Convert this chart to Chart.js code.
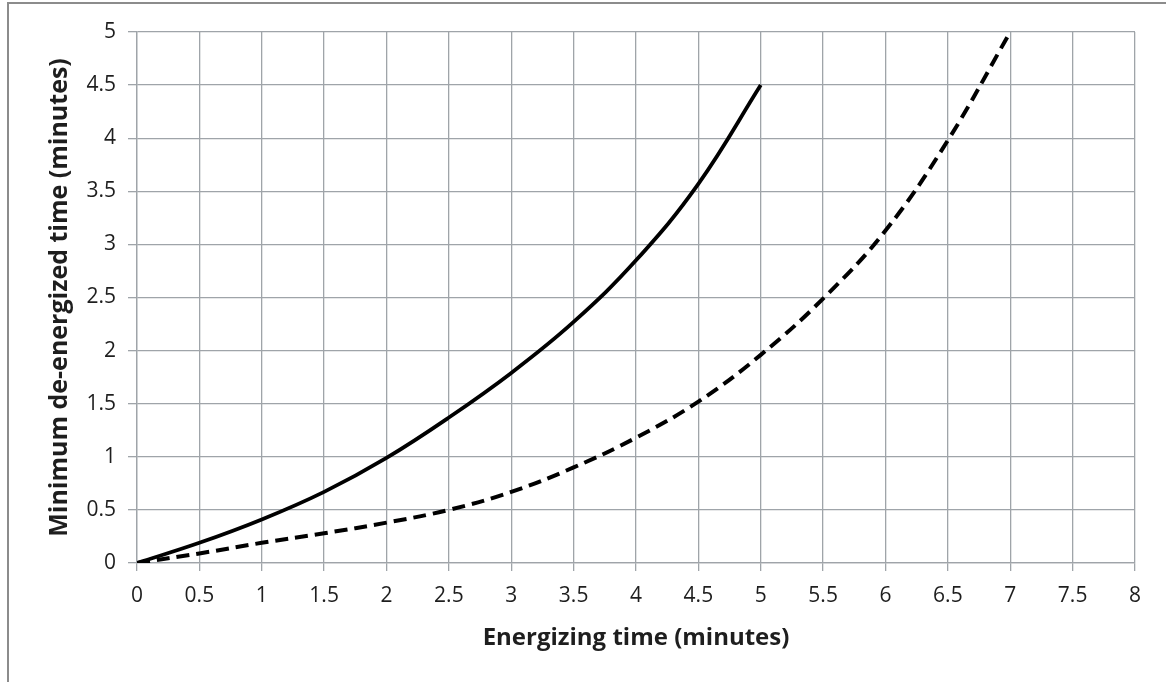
<!DOCTYPE html>
<html>
<head>
<meta charset="utf-8">
<title>Minimum de-energized time</title>
<script src="https://cdn.jsdelivr.net/npm/chart.js@4.4.1/dist/chart.umd.min.js"></script>
<style>
  html, body { margin: 0; padding: 0; background: #fff; }
  #wrap { position: relative; width: 1166px; height: 682px; overflow: hidden; }
  #frame {
    position: absolute; left: 7px; top: 2px; width: 1200px; height: 678px;
    border: 2px solid #8c8c8c; border-bottom: 1px solid #c8c8c8;
    pointer-events: none;
  }
  canvas { position: absolute; left: 0; top: 0; }
</style>
</head>
<body>
<div id="wrap">
  <canvas id="chart" width="1166" height="682"></canvas>
  <div id="frame"></div>
</div>
<script>
// Energizing time (minutes) vs minimum de-energized time (minutes)
const xTicks = [0, 0.5, 1, 1.5, 2, 2.5, 3, 3.5, 4, 4.5, 5, 5.5, 6, 6.5, 7, 7.5, 8];
const yTicks = [0, 0.5, 1, 1.5, 2, 2.5, 3, 3.5, 4, 4.5, 5];

const solidX = [0, 0.5, 1, 1.5, 2, 2.5, 3, 3.5, 4, 4.5, 5];
const solidY = [0, 0.19, 0.41, 0.67, 0.99, 1.37, 1.79, 2.27, 2.85, 3.57, 4.5];

const dashedX = [0, 0.5, 1, 1.5, 2, 2.5, 3, 3.5, 4, 4.5, 5, 5.5, 6, 6.5, 7];
const dashedY = [0, 0.09, 0.19, 0.28, 0.38, 0.5, 0.67, 0.9, 1.18, 1.52, 1.96, 2.49, 3.13, 3.98, 5.0];

const toPoints = (xs, ys) => xs.map((x, i) => ({ x: x, y: ys[i] }));

const gridColor = '#9fa4a9';
const textColor = '#1e1e1e';
const fontFamily = "'Open Sans', Lato, sans-serif";

new Chart(document.getElementById('chart'), {
  type: 'line',
  data: {
    datasets: [
      {
        data: toPoints(solidX, solidY),
        borderColor: '#000',
        borderWidth: 3.8,
        pointRadius: 0,
        tension: 0.4,
        fill: false
      },
      {
        data: toPoints(dashedX, dashedY),
        borderColor: '#000',
        borderWidth: 4,
        borderDash: [13, 7],
        pointRadius: 0,
        tension: 0.4,
        fill: false
      }
    ]
  },
  options: {
    responsive: false,
    animation: false,
    layout: { padding: { left: 45, top: 32, right: 31, bottom: 29 } },
    plugins: {
      legend: { display: false },
      tooltip: { enabled: false }
    },
    scales: {
      x: {
        type: 'linear',
        min: 0,
        max: 8,
        afterBuildTicks: (axis) => { axis.ticks = xTicks.map(v => ({ value: v })); },
        afterFit: (axis) => { axis.height = 90; },
        grid: { color: gridColor, lineWidth: 1.3, tickLength: 8 },
        border: { color: gridColor, width: 1.3 },
        ticks: {
          color: textColor,
          padding: 12,
          maxRotation: 0,
          autoSkip: false,
          font: { family: fontFamily, size: 21 },
          callback: (v) => String(v)
        },
        title: {
          display: true,
          text: 'Energizing time (minutes)',
          color: textColor,
          padding: 0,
          font: { family: fontFamily, size: 24, weight: 'bold' }
        }
      },
      y: {
        type: 'linear',
        min: 0,
        max: 5,
        afterBuildTicks: (axis) => { axis.ticks = yTicks.map(v => ({ value: v })); },
        afterFit: (axis) => { axis.width = 92; },
        grid: { color: gridColor, lineWidth: 1.3, tickLength: 9 },
        border: { color: gridColor, width: 1.3 },
        ticks: {
          color: textColor,
          padding: 12,
          autoSkip: false,
          font: { family: fontFamily, size: 21 },
          callback: (v) => String(v)
        },
        title: {
          display: true,
          text: 'Minimum de-energized time (minutes)',
          color: textColor,
          padding: 0,
          font: { family: fontFamily, size: 25, weight: 'bold' }
        }
      }
    }
  }
});
</script>
</body>
</html>
